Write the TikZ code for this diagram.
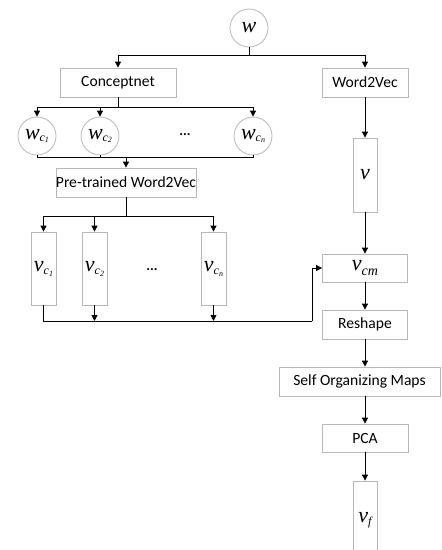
\documentclass[tikz,border=0pt]{standalone}
\usepackage{fontspec}
\setmainfont{Carlito}
\newfontfamily\srf{Liberation Serif}
\usetikzlibrary{arrows.meta,calc}
\newcommand{\bigsym}[1]{{\fontsize{22}{23}\srf\itshape\selectfont #1}}
\newcommand{\subA}[1]{\raisebox{-0.45ex}{\fontsize{12}{12}\srf\itshape\selectfont #1}}
\newcommand{\subB}[1]{\raisebox{-0.3ex}{\fontsize{8}{8}\srf\selectfont #1}}
\begin{document}
\begin{tikzpicture}[x=1pt,y=-1pt,
  box/.style={draw=black!28,line width=0.8pt,fill=white,inner sep=0pt,
    font=\fontsize{15.6}{18}\selectfont},
  circ/.style={draw=black!28,line width=0.8pt,fill=white,circle,minimum size=38pt,inner sep=0pt},
  conn/.style={line width=0.8pt,black},
  arr/.style={conn,-{Triangle[length=6pt,width=6pt]}},
  dotsy/.style={font=\fontsize{14}{15}\selectfont\bfseries}]
\useasboundingbox (0,0) rectangle (442,550);
\clip (0,0) rectangle (442,550);
% nodes
\node[circ] (w) at (249,28) {\bigsym{w}};
\node[box,minimum width=116pt,minimum height=29pt] (conc) at (118,82.5) {Conceptnet};
\node[box,minimum width=86pt,minimum height=29pt] (w2v) at (365,82.5) {Word2Vec};
\node[circ] (wc1) at (37,136) {\bigsym{w}\subA{c\subB{1}}};
\node[circ] (wc2) at (100,136) {\bigsym{w}\subA{c\subB{2}}};
\node[circ] (wcn) at (253,136) {\bigsym{w}\subA{c\subB{\itshape n}}};
\node[dotsy] (d1) at (185,135) {...};
\node[box,minimum width=138pt,minimum height=29pt] (pre) at (126,182.5) {Pre-trained Word2Vec};
\node[box,minimum width=24pt,minimum height=74pt] (v) at (365,175) {\bigsym{v}};
\node[box,minimum width=25pt,minimum height=73pt] (vc1) at (43.5,268.5) {\bigsym{v}\subA{c\subB{1}}};
\node[box,minimum width=25pt,minimum height=73pt] (vc2) at (94.5,268.5) {\bigsym{v}\subA{c\subB{2}}};
\node[box,minimum width=25pt,minimum height=73pt] (vcn) at (213.5,268.5) {\bigsym{v}\subA{c\subB{\itshape n}}};
\node[dotsy] (d2) at (152,270) {...};
\node[box,minimum width=85pt,minimum height=28pt] (vcm) at (365,268) {\bigsym{v}\raisebox{-0.7ex}{\fontsize{14}{14}\srf\itshape\selectfont cm}};
\node[box,minimum width=85pt,minimum height=29pt] (resh) at (365,324.5) {Reshape};
\node[box,minimum width=161pt,minimum height=29pt] (som) at (359.5,381.5) {Self Organizing Maps};
\node[box,minimum width=86pt,minimum height=28pt] (pca) at (365,438) {PCA};
\node[box,minimum width=24pt,minimum height=79pt] (vf) at (365,520.5) {\bigsym{v}\subA{f}};
% bus coordinates
\coordinate (b1) at (249,55);
\coordinate (b2) at (118,107);
\coordinate (b3) at (126,157);
\coordinate (b4) at (126,216);
\coordinate (b5) at (312,321);
% connectors
\draw[conn] (w.south) -- (b1);
\draw[arr] (b1) -| (conc.north);
\draw[arr] (b1) -| (w2v.north);
\draw[conn] (conc.south) -- (b2);
\draw[arr] (b2) -| (wc1.north);
\draw[arr] (b2) -| (wc2.north);
\draw[arr] (b2) -| (wcn.north);
\draw[conn] (wc1.south) |- (b3);
\draw[conn] (wc2.south) |- (b3);
\draw[conn] (wcn.south) |- (b3);
\draw[arr] (b3) -- (pre.north);
\draw[conn] (pre.south) -- (b4);
\draw[arr] (b4) -| (vc1.north);
\draw[arr] (b4) -| (vc2.north);
\draw[arr] (b4) -| (vcn.north);
\draw[conn] (vc1.south) |- (b5);
\draw[arr] (b5) |- (vcm.west);
\draw[arr] (vc2.south) -- (vc2.south |- b5);
\draw[arr] (vcn.south) -- (vcn.south |- b5);
\draw[arr] (w2v.south) -- (v.north);
\draw[arr] (v.south) -- (vcm.north);
\draw[arr] (vcm.south) -- (resh.north);
\draw[arr] (resh.south) -- (resh.south |- som.north);
\draw[arr] (resh.south |- som.south) -- (pca.north);
\draw[arr] (pca.south) -- (vf.north);
\end{tikzpicture}
\end{document}
